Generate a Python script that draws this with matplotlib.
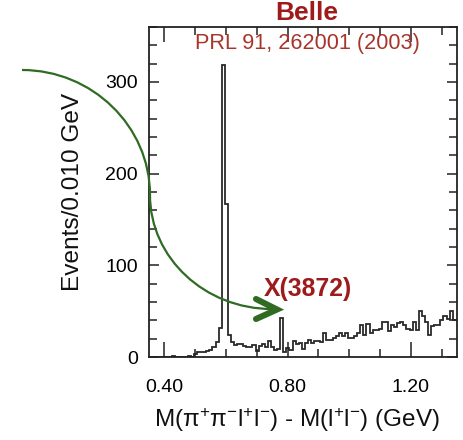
import numpy as np
import matplotlib
matplotlib.use("Agg")
import matplotlib.pyplot as plt
from matplotlib.path import Path
from matplotlib.patches import PathPatch
from matplotlib.transforms import Affine2D
from matplotlib.lines import Line2D
from matplotlib.ticker import FixedLocator, MultipleLocator

plt.rcParams['font.family'] = ['Liberation Sans', 'DejaVu Sans']
plt.rcParams['mathtext.default'] = 'regular'

# ---- data ----
bin_lo = 0.356
bin_hi = 1.356
n_bins = 100
counts = [0, 0, 0, 0, 0, 0, 0, 1, 0, 0,
          0, 0, 1, 0, 3, 6, 5, 5, 7, 8,
          11, 16, 32, 318, 167, 24, 16, 13, 14, 14,
          12, 11, 11, 13, 7, 12, 14, 11, 17, 11,
          8, 9, 43, 6, 10, 8, 17, 14, 15, 9,
          15, 19, 15, 18, 17, 16, 26, 19, 19, 21,
          23, 26, 23, 26, 21, 21, 23, 26, 35, 24,
          36, 26, 30, 29, 31, 38, 38, 28, 35, 33,
          37, 38, 35, 31, 30, 38, 30, 50, 45, 38,
          24, 34, 35, 35, 40, 45, 41, 50, 40, 40]
x_range = (0.35, 1.35)
y_range = (0, 360)
x_major = [0.40, 0.80, 1.20]
x_major_labels = ["0.40", "0.80", "1.20"]
y_major = [0, 100, 200, 300]
title_text = "Belle"
ref_text = "PRL 91, 262001 (2003)"
peak_text = "X(3872)"
xlabel = "M(π$^{+}$π$^{-}$l$^{+}$l$^{-}$) - M(l$^{+}$l$^{-}$) (GeV)"
ylabel = "Events/0.010 GeV"

W, H = 464, 440
fig = plt.figure(figsize=(W / 100, H / 100), dpi=100)
ax = fig.add_axes([149 / W, 1 - 357 / H, (457 - 149) / W, (357 - 27) / H])

edges = np.linspace(bin_lo, bin_hi, n_bins + 1)
ax.stairs(counts, edges, color='#2a2a2a', lw=1.3)

ax.set_xlim(*x_range)
ax.set_ylim(*y_range)

ax.xaxis.set_major_locator(FixedLocator(x_major))
ax.set_xticklabels(x_major_labels)
ax.xaxis.set_minor_locator(MultipleLocator(0.1))
ax.yaxis.set_major_locator(FixedLocator(y_major))
ax.yaxis.set_minor_locator(MultipleLocator(20))

ax.tick_params(axis='x', which='major', direction='in', length=11, width=1.1,
               top=True, bottom=True, labelsize=14, pad=16, color='#222222')
ax.tick_params(axis='x', which='minor', direction='in', length=6, width=1.1,
               top=True, bottom=True, color='#222222')
ax.tick_params(axis='y', which='major', direction='in', length=7, width=1.1,
               left=True, right=True, labelsize=14, pad=8, color='#222222')
ax.tick_params(axis='y', which='minor', direction='in', length=6, width=1.1,
               left=True, right=True, color='#222222')
for s in ax.spines.values():
    s.set_linewidth(1.3)
    s.set_color('#222222')

# pixel transform (top-left origin)
pix = Affine2D().scale(1 / W, -1 / H).translate(0, 1) + fig.transFigure

fig.text(307, 13, title_text, transform=pix, ha='center', va='center',
         fontsize=19, fontweight='bold', color='#9e1b1b')
fig.text(307, 44, ref_text, transform=pix, ha='center', va='center',
         fontsize=15.6, color='#a8352c')
fig.text(308, 289, peak_text, transform=pix, ha='center', va='center',
         fontsize=17.8, fontweight='bold', color='#9e1b1b')
fig.text(297, 420, xlabel, transform=pix, ha='center', va='center',
         fontsize=17.5, color='#111111')
fig.text(73, 192, ylabel, transform=pix, ha='center', va='center',
         fontsize=17.6, rotation=90, color='#111111')

green = '#2f6b22'
verts = [(22, 70), (92, 70), (150, 126), (150, 195),
         (150, 258), (205, 309), (272, 309)]
codes = [Path.MOVETO, Path.CURVE4, Path.CURVE4, Path.CURVE4,
         Path.CURVE4, Path.CURVE4, Path.CURVE4]
fig.patches.append(PathPatch(Path(verts, codes), transform=pix, fill=False,
                             edgecolor=green, lw=1.6))
fig.lines.append(Line2D([256, 277, 256], [299, 309.5, 319], transform=pix,
                        color=green, lw=4.4, solid_capstyle='round',
                        solid_joinstyle='miter'))

fig.savefig('out.png', dpi=100)
